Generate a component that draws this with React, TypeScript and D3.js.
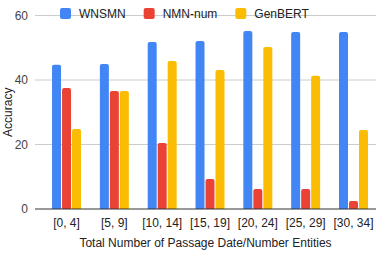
import React, { useEffect, useRef } from 'react';
import * as d3 from 'd3';

const categories = ['[0, 4]', '[5, 9]', '[10, 14]', '[15, 19]', '[20, 24]', '[25, 29]', '[30, 34]'];
const seriesNames = ['WNSMN', 'NMN-num', 'GenBERT'];
const wnsmn = [44.7, 45.0, 51.8, 52.1, 55.2, 54.9, 54.9];
const nmnNum = [37.5, 36.6, 20.5, 9.3, 6.2, 6.2, 2.5];
const genbert = [24.8, 36.6, 45.9, 43.1, 50.2, 41.3, 24.5];
const yTicks = [0, 20, 40, 60];
const colors = ['#4285F4', '#EA4335', '#FBBC04'];

const App: React.FC = () => {
  const svgRef = useRef<SVGSVGElement>(null);

  useEffect(() => {
    if (!svgRef.current) return;
    const svg = d3.select(svgRef.current);
    svg.selectAll('*').remove();

    const font = 'Arial, "Liberation Sans", sans-serif';
    const left = 35;
    const right = 376;
    const top = 15.5;
    const bottom = 209;

    const series = [wnsmn, nmnNum, genbert];

    const x0 = d3.scaleBand<string>()
      .domain(categories)
      .range([left, right])
      .paddingInner(0.394)
      .paddingOuter(0.262)
      .align(0.68);

    const x1 = d3.scaleBand<string>()
      .domain(seriesNames)
      .range([0, x0.bandwidth()])
      .paddingInner(0.1);

    const y = d3.scaleLinear().domain([0, 60]).range([bottom, top]);

    // gridlines
    svg.append('g')
      .selectAll('line')
      .data(yTicks.filter(t => t !== 0))
      .join('line')
      .attr('x1', left)
      .attr('x2', right)
      .attr('y1', d => y(d))
      .attr('y2', d => y(d))
      .attr('stroke', '#cccccc')
      .attr('stroke-width', 1);

    // y tick labels
    svg.append('g')
      .selectAll('text')
      .data(yTicks)
      .join('text')
      .attr('x', 28)
      .attr('y', d => y(d))
      .attr('dy', '0.35em')
      .attr('text-anchor', 'end')
      .style('font-family', font)
      .style('font-size', '12px')
      .style('fill', '#444')
      .text(d => String(d));

    // bars with rounded tops
    const r = 2;
    categories.forEach((cat, i) => {
      seriesNames.forEach((name, j) => {
        const v = series[j][i];
        const bx = (x0(cat) || 0) + (x1(name) || 0);
        const bw = x1.bandwidth();
        const by = y(v);
        const rr = Math.min(r, (bottom - by) / 2);
        const p = `M${bx},${bottom} L${bx},${by + rr} Q${bx},${by} ${bx + rr},${by} L${bx + bw - rr},${by} Q${bx + bw},${by} ${bx + bw},${by + rr} L${bx + bw},${bottom} Z`;
        svg.append('path').attr('d', p).attr('fill', colors[j]);
      });
    });

    // baseline
    svg.append('line')
      .attr('x1', left)
      .attr('x2', right)
      .attr('y1', y(0))
      .attr('y2', y(0))
      .attr('stroke', '#333')
      .attr('stroke-width', 1);

    // x labels
    svg.append('g')
      .selectAll('text')
      .data(categories)
      .join('text')
      .attr('x', d => (x0(d) || 0) + x0.bandwidth() / 2)
      .attr('y', 227)
      .attr('text-anchor', 'middle')
      .style('font-family', font)
      .style('font-size', '12px')
      .style('fill', '#222')
      .text(d => d);

    // axis titles
    svg.append('text')
      .attr('x', (left + right) / 2)
      .attr('y', 247)
      .attr('text-anchor', 'middle')
      .style('font-family', font)
      .style('font-size', '12px')
      .style('fill', '#222')
      .text('Total Number of Passage Date/Number Entities');

    svg.append('text')
      .attr('transform', `translate(12,${(top + bottom) / 2}) rotate(-90)`)
      .attr('text-anchor', 'middle')
      .style('font-family', font)
      .style('font-size', '12px')
      .style('fill', '#222')
      .text('Accuracy');

    // legend
    let lx = 60;
    seriesNames.forEach((name, j) => {
      svg.append('rect')
        .attr('x', lx)
        .attr('y', 8)
        .attr('width', 11)
        .attr('height', 11)
        .attr('rx', 2)
        .attr('fill', colors[j]);
      const t = svg.append('text')
        .attr('x', lx + 19)
        .attr('y', 13.5)
        .attr('dy', '0.35em')
        .style('font-family', font)
        .style('font-size', '12px')
        .style('fill', '#222')
        .text(name);
      const w = (t.node() as SVGTextElement).getComputedTextLength();
      lx = lx + 19 + w + 18;
    });
  }, []);

  return (
    <div style={{ position: 'absolute', left: 0, top: 0 }}>
      <svg ref={svgRef} width={376} height={254} style={{ display: 'block', background: '#fff' }} />
    </div>
  );
};

export default App;
